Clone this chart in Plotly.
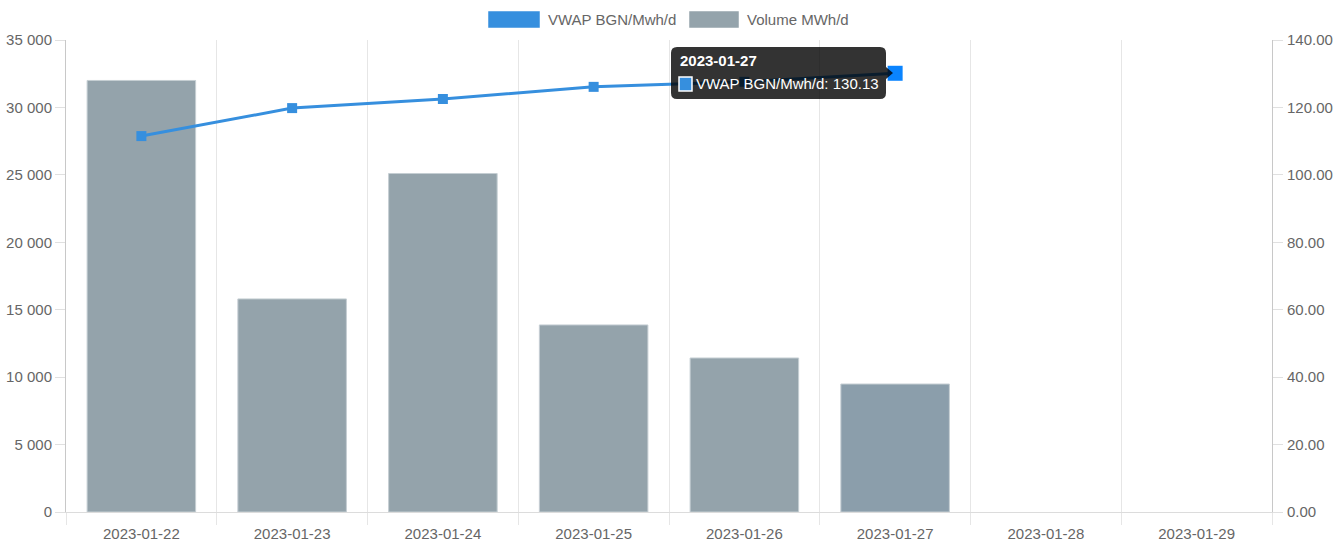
import plotly.graph_objects as go

dates = ["2023-01-22", "2023-01-23", "2023-01-24", "2023-01-25",
         "2023-01-26", "2023-01-27", "2023-01-28", "2023-01-29"]
volume = [32000, 15800, 25100, 13870, 11420, 9490]
vwap = [111.5, 119.8, 122.5, 126.1, 127.6, 130.13]
left_ticks = [0, 5000, 10000, 15000, 20000, 25000, 30000, 35000]
left_labels = ["0", "5 000", "10 000", "15 000", "20 000", "25 000", "30 000", "35 000"]
right_ticks = [0, 20, 40, 60, 80, 100, 120, 140]
right_labels = ["0.00", "20.00", "40.00", "60.00", "80.00", "100.00", "120.00", "140.00"]
series_names = ["VWAP BGN/Mwh/d", "Volume MWh/d"]

LINE = "#368fde"
BAR = "#94a3ab"
BAR_HOVER = "#8b9eab"
HOVER_PT = "#0a84ff"
FONT = "Liberation Sans, Arial, sans-serif"
FS = 15

xs = list(range(len(dates)))
bar_x = xs[:len(volume)]
line_x = xs[:len(vwap)]
hover_i = len(vwap) - 1

fig = go.Figure()
fig.add_trace(go.Bar(
    x=bar_x, y=volume, width=0.72, name=series_names[1],
    marker=dict(color=[BAR] * (len(volume) - 1) + [BAR_HOVER],
                line=dict(color="#c5ced3", width=1)),
    yaxis="y", showlegend=False,
))
fig.add_trace(go.Scatter(
    x=line_x, y=vwap, name=series_names[0], mode="lines+markers",
    line=dict(color=LINE, width=3),
    marker=dict(symbol="square", opacity=1,
                size=[10] * (len(vwap) - 1) + [15],
                color=[LINE] * (len(vwap) - 1) + [HOVER_PT],
                line=dict(width=0)),
    yaxis="y2", showlegend=False,
))

grid_vals = [i - 0.5 for i in range(len(dates) + 1)]

L, R, T, B = 66, 1272, 40, 512

fig.update_layout(
    width=1337, height=550,
    margin=dict(l=L, r=1337 - R, t=T, b=550 - B),
    paper_bgcolor="white", plot_bgcolor="white",
    font=dict(family=FONT, size=FS, color="#666"),
    hovermode=False,
    xaxis=dict(
        range=[-0.5, len(dates) - 0.5],
        tickvals=xs, ticktext=dates, automargin=False,
        showgrid=False, ticks="", zeroline=False,
        showline=True, linecolor="#dcdcdc", linewidth=1,
        tickfont=dict(size=FS, color="#666"), ticklabelstandoff=8,
        minor=dict(tickvals=grid_vals, showgrid=True, gridcolor="#e6e6e6",
                   gridwidth=1, ticks="outside", ticklen=12, tickcolor="#e6e6e6"),
    ),
    yaxis=dict(
        range=[0, 35000], tickvals=left_ticks, ticktext=left_labels,
        showgrid=False, zeroline=False, automargin=False,
        showline=True, linecolor="#c8c8c8", linewidth=1,
        ticks="outside", ticklen=10, tickcolor="#e0e0e0", ticklabelstandoff=0,
        tickfont=dict(size=FS, color="#666"),
    ),
    yaxis2=dict(
        range=[0, 140], tickvals=right_ticks, ticktext=right_labels,
        overlaying="y", side="right", automargin=False,
        showgrid=False, zeroline=False,
        showline=True, linecolor="#c8c8c8", linewidth=1,
        ticks="outside", ticklen=10, tickcolor="#e0e0e0", ticklabelstandoff=1,
        tickfont=dict(size=FS, color="#666"),
    ),
)


def px_x(p):
    return (p - L) / (R - L)


def px_y(p):
    return (B - p) / (B - T)


# Chart.js-style legend (wide colour boxes)
legend_items = [(488, 540, 546, LINE, series_names[0]),
                (689, 739, 745, BAR, series_names[1])]
for x0, x1, tx, col, name in legend_items:
    fig.add_shape(type="rect", xref="paper", yref="paper",
                  x0=px_x(x0), x1=px_x(x1), y0=px_y(28), y1=px_y(11),
                  fillcolor=col, line=dict(color="white", width=0.5), layer="above")
    fig.add_annotation(xref="paper", yref="paper", x=px_x(tx), y=px_y(19.5),
                       xanchor="left", yanchor="middle", showarrow=False,
                       text=name, font=dict(size=FS, color="#666"))

# Tooltip (rounded dark box with caret, Chart.js style)
bx0, bx1, by0, by1, r = 671, 886, 47, 99, 6
path = (f"M {px_x(bx0 + r)} {px_y(by0)} L {px_x(bx1 - r)} {px_y(by0)} "
        f"Q {px_x(bx1)} {px_y(by0)} {px_x(bx1)} {px_y(by0 + r)} "
        f"L {px_x(bx1)} {px_y(67)} L {px_x(bx1 + 7)} {px_y(73)} L {px_x(bx1)} {px_y(79)} "
        f"L {px_x(bx1)} {px_y(by1 - r)} "
        f"Q {px_x(bx1)} {px_y(by1)} {px_x(bx1 - r)} {px_y(by1)} "
        f"L {px_x(bx0 + r)} {px_y(by1)} "
        f"Q {px_x(bx0)} {px_y(by1)} {px_x(bx0)} {px_y(by1 - r)} "
        f"L {px_x(bx0)} {px_y(by0 + r)} "
        f"Q {px_x(bx0)} {px_y(by0)} {px_x(bx0 + r)} {px_y(by0)} Z")
fig.add_shape(type="path", xref="paper", yref="paper", path=path,
              fillcolor="rgba(0,0,0,0.8)", line=dict(width=0), layer="above")
fig.add_shape(type="rect", xref="paper", yref="paper",
              x0=px_x(679), x1=px_x(692), y0=px_y(91), y1=px_y(77),
              fillcolor=LINE, line=dict(color="white", width=1.5), layer="above")
fig.add_annotation(xref="paper", yref="paper", x=px_x(678), y=px_y(60),
                   xanchor="left", yanchor="middle", showarrow=False,
                   text=f"<b>{dates[hover_i]}</b>",
                   font=dict(color="white", size=FS, family=FONT))
fig.add_annotation(xref="paper", yref="paper", x=px_x(694), y=px_y(84),
                   xanchor="left", yanchor="middle", showarrow=False,
                   text=f"{series_names[0]}: {vwap[hover_i]:.2f}",
                   font=dict(color="white", size=FS, family=FONT))

fig.write_html("out.html")
